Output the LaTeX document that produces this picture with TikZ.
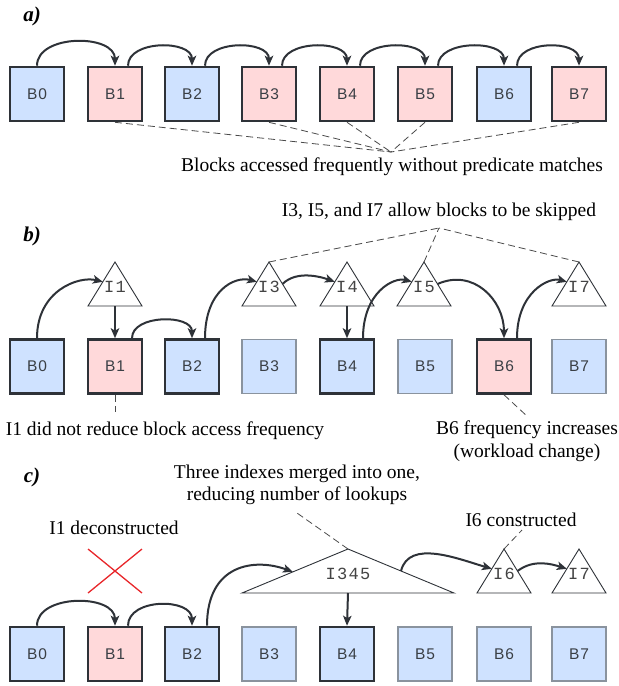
\documentclass[tikz,border=0pt]{standalone}
\usepackage{fontspec}
\setmainfont{Liberation Serif}
\setsansfont[LetterSpace=6]{Liberation Sans}
\setmonofont[LetterSpace=8]{Liberation Mono}
\usetikzlibrary{arrows.meta,calc}

\definecolor{edgedark}{HTML}{2E3238}
\definecolor{edgelight}{HTML}{8A939E}
\definecolor{bluefill}{HTML}{CFE2FF}
\definecolor{pinkfill}{HTML}{FFD9DA}
\definecolor{boxtext}{HTML}{3A3F45}
\definecolor{idxtext}{HTML}{444444}
\definecolor{dashgray}{HTML}{4A4A4A}
\definecolor{crossred}{HTML}{E8262A}

% index triangle: name, centre x, apex y, half base, height, label
\newcommand{\ixtri}[6]{%
  \draw[tri] (#2,#3) coordinate (#1-apex) -- ++(#4,#5) coordinate (#1-br)
             -- ++(-2*#4,0) coordinate (#1-bl) -- cycle;
  \coordinate (#1-base) at (#2,#3+#5);
  \coordinate (#1-w) at ($(#1-apex)!0.45!(#1-bl)$);
  \coordinate (#1-e) at ($(#1-apex)!0.5!(#1-br)$);
  \node[ixlab] (#1) at (#2,#3+0.57*#5) {#6};
}

\begin{document}
\begin{tikzpicture}[x=1pt,y=-1pt,
  blockbox/.style={minimum size=54pt, inner sep=0pt, text=boxtext,
    font=\sffamily\fontsize{15.5}{15.5}\selectfont},
  hot/.style={blockbox, draw=edgedark, line width=2.6pt, fill=pinkfill},
  cold/.style={blockbox, draw=edgedark, line width=2.6pt, fill=bluefill},
  idle/.style={blockbox, draw=edgelight, line width=1.2pt, fill=bluefill},
  tri/.style={draw=edgedark, line width=0.9pt, fill=white},
  ixlab/.style={inner sep=0pt, text=idxtext, font=\ttfamily\fontsize{17}{17}\selectfont},
  arr/.style={draw=edgedark, line width=2pt,
    -{Stealth[length=10pt, width=8.5pt, inset=2.5pt]}},
  callout/.style={draw=dashgray, line width=0.8pt, dash pattern=on 7pt off 4pt},
  note/.style={inner sep=0pt, align=center, font=\fontsize{19.5}{22.5}\selectfont},
  tag/.style={inner sep=0pt, font=\bfseries\itshape\fontsize{21}{21}\selectfont},
  cross/.style={draw=crossred, line width=1.3pt}
]
\useasboundingbox (0,0) rectangle (619,686);

% ---------------- a) ----------------
\node[tag] (ta) at (32,16) {a)};
\node[cold] (a0) at (37,94)  {B0};
\node[hot]  (a1) at (115,94) {B1};
\node[cold] (a2) at (192,94) {B2};
\node[hot]  (a3) at (269,94) {B3};
\node[hot]  (a4) at (347,94) {B4};
\node[hot]  (a5) at (425,94) {B5};
\node[cold] (a6) at (504,94) {B6};
\node[hot]  (a7) at (579,94) {B7};

\draw[arr] (a0.north) .. controls +(0,-32) and +(0,-32) .. (a1.north);
\draw[arr] ([xshift=13pt]a1.north) .. controls +(0,-26) and +(0,-26) .. (a2.north);
\draw[arr] ([xshift=13pt]a2.north) .. controls +(0,-26) and +(0,-26) .. (a3.north);
\draw[arr] ([xshift=13pt]a3.north) .. controls +(0,-26) and +(0,-26) .. (a4.north);
\draw[arr] ([xshift=13pt]a4.north) .. controls +(0,-26) and +(0,-26) .. (a5.north);
\draw[arr] ([xshift=13pt]a5.north) .. controls +(0,-26) and +(0,-26) .. (a6.north);
\draw[arr] ([xshift=13pt]a6.north) .. controls +(0,-26) and +(0,-26) .. (a7.north);

\coordinate (pa) at (391,152);
\foreach \b in {a1,a3,a4,a5,a7} \draw[callout] (\b.south) -- (pa);
\node[note] (na) at (392,167) {Blocks accessed frequently without predicate matches};

% ---------------- b) ----------------
\node[tag] (tb) at (32,236) {b)};
\node[cold] (b0) at (37,366.5)  {B0};
\node[hot]  (b1) at (115,366.5) {B1};
\node[cold] (b2) at (192,366.5) {B2};
\node[idle] (b3) at (269,366.5) {B3};
\node[cold] (b4) at (347,366.5) {B4};
\node[idle] (b5) at (425,366.5) {B5};
\node[hot]  (b6) at (504,366.5) {B6};
\node[idle] (b7) at (579,366.5) {B7};

\ixtri{i1}{115}{262}{27}{44}{I1}
\ixtri{i3}{269}{262}{27}{44}{I3}
\ixtri{i4}{347}{262}{27}{44}{I4}
\ixtri{i5}{424}{262}{27}{44}{I5}
\ixtri{i7}{579}{262}{27}{44}{I7}

\draw[arr] (b0.north) .. controls +(0,-48) and +(-24,-6) .. (i1-w);
\draw[arr] (i1-base) -- (b1.north);
\draw[arr] ([xshift=17pt]b1.north) .. controls +(0,-24) and +(0,-24) .. (b2.north);
\draw[arr] ([xshift=13pt]b2.north) .. controls +(0,-48) and +(-22,-6) .. (i3-w);
\draw[arr] (i3-e) .. controls +(14,-14) and +(-14,-5) .. (i4-w);
\draw[arr] (i4-base) -- (b4.north);
\draw[arr] ([xshift=16pt]b4.north) .. controls +(0,-46) and +(-18,-5) .. (i5-w);
\draw[arr] (i5-e) .. controls +(36,-16) and +(0,-38) .. (b6.north);
\draw[arr] ([xshift=13pt]b6.north) .. controls +(0,-46) and +(-18,-5) .. (i7-w);

\coordinate (pb) at (439,228);
\foreach \t in {i3,i5,i7} \draw[callout] (\t-apex) -- (pb);
\node[note] (nb) at (439,212) {I3, I5, and I7 allow blocks to be skipped};

\coordinate (pb1) at (115,412);
\draw[callout] (b1.south) -- (pb1);
\node[note] (nb1) at (165,431) {I1 did not reduce block access frequency};

\coordinate (pb6) at (528,417);
\draw[callout] (b6.south) -- (pb6);
\node[note] (nb6) at (527,441) {B6 frequency increases\\(workload change)};

% ---------------- c) ----------------
\node[tag] (tc) at (32,477) {c)};
\node[cold] (c0) at (37,654)  {B0};
\node[hot]  (c1) at (115,654) {B1};
\node[cold] (c2) at (192,654) {B2};
\node[idle] (c3) at (269,654) {B3};
\node[cold] (c4) at (347,654) {B4};
\node[idle] (c5) at (425,654) {B5};
\node[idle] (c6) at (504,654) {B6};
\node[idle] (c7) at (579,654) {B7};

% removed index I1
\draw[cross] (88,549) -- (142,593) (142,549) -- (88,593);
\node[note] (nc1) at (114,528) {I1 deconstructed};

\ixtri{m}{348}{549}{106}{44}{I345}
\ixtri{i6}{504}{549}{27}{44}{I6}
\ixtri{j7}{579}{549}{27}{44}{I7}
\coordinate (m-w2) at ($(m-apex)!0.52!(m-bl)$);

\draw[arr] (c0.north) .. controls +(0,-32) and +(0,-32) .. (c1.north);
\draw[arr] ([xshift=13pt]c1.north) .. controls +(0,-28) and +(0,-28) .. (c2.north);
\draw[arr] ([xshift=15pt]c2.north) .. controls +(0,-62) and +(-38,-14) .. (m-w2);
\draw[arr] (m-base) -- (c4.north);
\draw[arr] (m-e) .. controls +(8,-32) and +(-34,-10) .. (i6-w);
\draw[arr] (i6-e) .. controls +(16,-12) and +(-16,-5) .. (j7-w);

\coordinate (pm) at (297,513);
\draw[callout] (m-apex) -- (pm);
\node[note] (nm) at (297,485) {Three indexes merged into one,\\reducing number of lookups};

\coordinate (p6) at (522,530);
\draw[callout] (i6-apex) -- (p6);
\node[note] (n6) at (521,520) {I6 constructed};
\end{tikzpicture}
\end{document}
